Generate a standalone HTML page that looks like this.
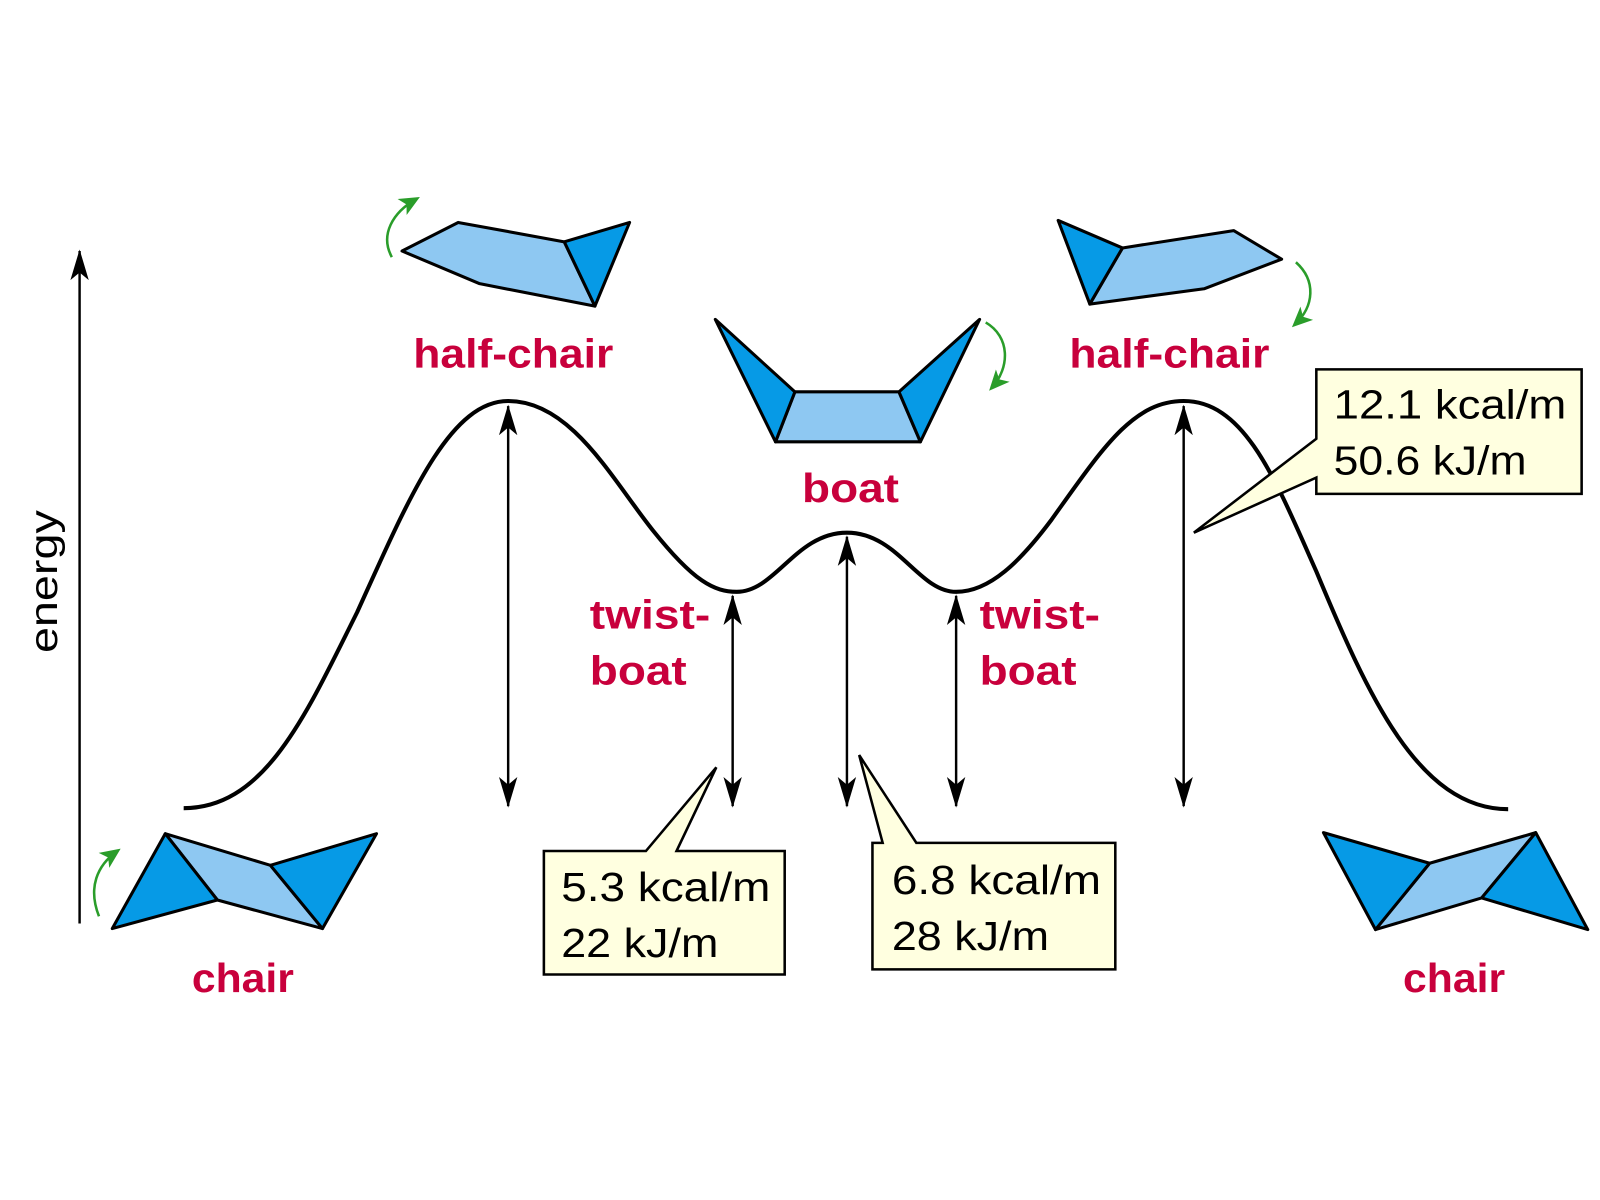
<!DOCTYPE html>
<html><head><meta charset="utf-8"><style>html,body{margin:0;padding:0;background:#fff}svg{display:block}</style></head>
<body>
<svg width="1600" height="1200" viewBox="0 0 1568 1176" xmlns="http://www.w3.org/2000/svg">
<defs>
<marker id="ah" viewBox="0 0 20 20" refX="19" refY="10" markerWidth="30" markerHeight="30" markerUnits="userSpaceOnUse" orient="auto-start-reverse">
<path d="M0,4 L20,10 L0,16 L5,10 Z" fill="#000"/></marker>
<marker id="gh" viewBox="0 0 20 20" refX="16" refY="10" markerWidth="20" markerHeight="20" markerUnits="userSpaceOnUse" orient="auto">
<path d="M0,1 L20,10 L0,19 L5,10 Z" fill="#2a9d2a"/></marker>
</defs>
<g font-family="Liberation Sans, sans-serif">
<line x1="78" y1="905" x2="78" y2="246" stroke="#000" stroke-width="2.4" marker-end="url(#ah)"/>
<text x="0" y="0" font-size="38" transform="translate(56,570) rotate(-90)" text-anchor="middle" textLength="140" lengthAdjust="spacingAndGlyphs">energy</text>
<path d="M180,792 C260,792 300,700 350,600 C400,490 440,393 498,393 C560,393 600,470 640,520 C680,570 700,580 722,580 C760,580 780,522 830,522 C880,522 900,580 937,580 C970,580 1000,550 1030,510 C1080,440 1110,393 1160,393 C1220,393 1250,470 1290,560 C1340,680 1390,793 1478,793" fill="none" stroke="#000" stroke-width="4"/>
<g stroke="#000" stroke-width="2.4">
<line x1="498" y1="398" x2="498" y2="790" marker-start="url(#ah)" marker-end="url(#ah)"/>
<line x1="718" y1="584" x2="718" y2="790" marker-start="url(#ah)" marker-end="url(#ah)"/>
<line x1="830" y1="526" x2="830" y2="790" marker-start="url(#ah)" marker-end="url(#ah)"/>
<line x1="937" y1="584" x2="937" y2="790" marker-start="url(#ah)" marker-end="url(#ah)"/>
<line x1="1160" y1="398" x2="1160" y2="790" marker-start="url(#ah)" marker-end="url(#ah)"/>
</g>
<g stroke="#000" stroke-width="3" stroke-linejoin="round">
<polygon points="162,817 265,848 316,910 213,882" fill="#8ec8f2"/>
<polygon points="162,817 213,882 110,910" fill="#069ae6"/>
<polygon points="265,848 369,817 316,910" fill="#069ae6"/>
<polygon points="1401,846 1505,816 1452,880 1348,911" fill="#8ec8f2"/>
<polygon points="1297,816 1401,846 1348,911" fill="#069ae6"/>
<polygon points="1505,816 1556,911 1452,880" fill="#069ae6"/>
<polygon points="394,246 449,218 553,237 583,300 470,278" fill="#8ec8f2"/>
<polygon points="553,237 617,218 583,300" fill="#069ae6"/>
<polygon points="1100,243 1209,226 1256,254 1180,283 1068,298" fill="#8ec8f2"/>
<polygon points="1037,216 1100,243 1068,298" fill="#069ae6"/>
<polygon points="779,384 881,384 902,433 760,433" fill="#8ec8f2"/>
<polygon points="701,313 779,384 760,433" fill="#069ae6"/>
<polygon points="960,313 881,384 902,433" fill="#069ae6"/>
</g>
<g fill="none" stroke="#2a9d2a" stroke-width="2.5">
<path d="M384,252 C372,230 385,208 408,195" marker-end="url(#gh)"/>
<path d="M966,316 C990,330 990,360 972,380" marker-end="url(#gh)"/>
<path d="M1270,257 C1290,275 1288,300 1269,318" marker-end="url(#gh)"/>
<path d="M97,898 C86,870 95,848 115,834" marker-end="url(#gh)"/>
</g>
<g fill="#c8003c" font-weight="bold" font-size="40">
<text x="405" y="360" textLength="196" lengthAdjust="spacingAndGlyphs">half-chair</text>
<text x="1048" y="360" textLength="196" lengthAdjust="spacingAndGlyphs">half-chair</text>
<text x="786" y="492" textLength="95" lengthAdjust="spacingAndGlyphs">boat</text>
<text x="578" y="616" textLength="118" lengthAdjust="spacingAndGlyphs">twist-</text>
<text x="578" y="671" textLength="95" lengthAdjust="spacingAndGlyphs">boat</text>
<text x="960" y="616" textLength="118" lengthAdjust="spacingAndGlyphs">twist-</text>
<text x="960" y="671" textLength="95" lengthAdjust="spacingAndGlyphs">boat</text>
<text x="188" y="972" textLength="100" lengthAdjust="spacingAndGlyphs">chair</text>
<text x="1375" y="972" textLength="100" lengthAdjust="spacingAndGlyphs">chair</text>
</g>
<g fill="#ffffe0" stroke="#000" stroke-width="2.5" stroke-linejoin="miter">
<polygon points="533,834 633,834 702,752 663,834 769,834 769,955 533,955"/>
<polygon points="855,826 865,826 842,740 898,826 1093,826 1093,950 855,950"/>
<polygon points="1290,362 1550,362 1550,484 1290,484 1290,468 1170,522 1290,430"/>
</g>
<g font-size="40" fill="#000">
<text x="550" y="883" textLength="205" lengthAdjust="spacingAndGlyphs">5.3 kcal/m</text>
<text x="550" y="938" textLength="154" lengthAdjust="spacingAndGlyphs">22 kJ/m</text>
<text x="874" y="876" textLength="205" lengthAdjust="spacingAndGlyphs">6.8 kcal/m</text>
<text x="874" y="931" textLength="154" lengthAdjust="spacingAndGlyphs">28 kJ/m</text>
<text x="1307" y="410" textLength="228" lengthAdjust="spacingAndGlyphs">12.1 kcal/m</text>
<text x="1307" y="465" textLength="189" lengthAdjust="spacingAndGlyphs">50.6 kJ/m</text>
</g>
</g>
</svg>
</body></html>
